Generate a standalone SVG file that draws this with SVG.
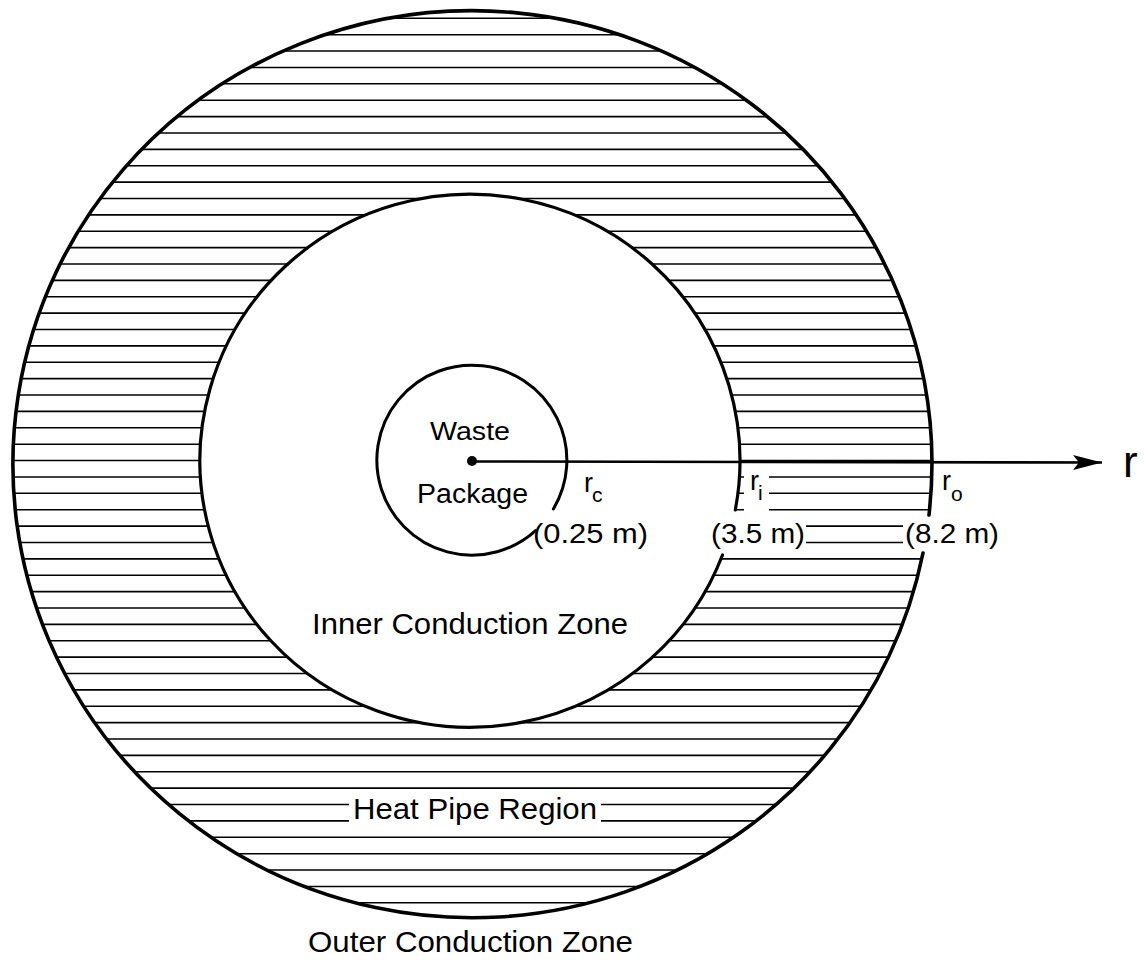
<svg xmlns="http://www.w3.org/2000/svg" width="1144" height="966" viewBox="0 0 1144 966">
<style>
.bd{fill:none;stroke:#000;stroke-linecap:round}
.hl{stroke:#000;stroke-width:1.6}
.t{font-family:"Liberation Sans",Arial,Helvetica,sans-serif;fill:#000}
.ko{fill:#fff}
</style>
<defs>
<clipPath id="annulus">
<path clip-rule="evenodd" d="M 13 463.5 A 459.5 453.5 0 1 0 932 463.5 A 459.5 453.5 0 1 0 13 463.5 Z M 200 460.5 A 270 266.5 0 1 0 740 460.5 A 270 266.5 0 1 0 200 460.5 Z"/>
</clipPath>
<marker id="arrow" markerWidth="30" markerHeight="16" refX="29" refY="8" orient="auto" markerUnits="userSpaceOnUse">
<path d="M 0 0.5 L 29 8 L 0 15.5 L 6 8 Z" fill="#000"/>
</marker>
</defs>
<rect width="1144" height="966" fill="#fff"/>

<g id="hatching" clip-path="url(#annulus)">
<line class="hl" x1="0" x2="1144" y1="18.3" y2="18.3"/>
<line class="hl" x1="0" x2="1144" y1="34.68" y2="34.68"/>
<line class="hl" x1="0" x2="1144" y1="51.06" y2="51.06"/>
<line class="hl" x1="0" x2="1144" y1="67.44" y2="67.44"/>
<line class="hl" x1="0" x2="1144" y1="83.82" y2="83.82"/>
<line class="hl" x1="0" x2="1144" y1="100.2" y2="100.2"/>
<line class="hl" x1="0" x2="1144" y1="116.58" y2="116.58"/>
<line class="hl" x1="0" x2="1144" y1="132.96" y2="132.96"/>
<line class="hl" x1="0" x2="1144" y1="149.34" y2="149.34"/>
<line class="hl" x1="0" x2="1144" y1="165.72" y2="165.72"/>
<line class="hl" x1="0" x2="1144" y1="182.1" y2="182.1"/>
<line class="hl" x1="0" x2="1144" y1="198.48" y2="198.48"/>
<line class="hl" x1="0" x2="1144" y1="214.86" y2="214.86"/>
<line class="hl" x1="0" x2="1144" y1="231.24" y2="231.24"/>
<line class="hl" x1="0" x2="1144" y1="247.62" y2="247.62"/>
<line class="hl" x1="0" x2="1144" y1="264" y2="264"/>
<line class="hl" x1="0" x2="1144" y1="280.38" y2="280.38"/>
<line class="hl" x1="0" x2="1144" y1="296.76" y2="296.76"/>
<line class="hl" x1="0" x2="1144" y1="313.14" y2="313.14"/>
<line class="hl" x1="0" x2="1144" y1="329.52" y2="329.52"/>
<line class="hl" x1="0" x2="1144" y1="345.9" y2="345.9"/>
<line class="hl" x1="0" x2="1144" y1="362.28" y2="362.28"/>
<line class="hl" x1="0" x2="1144" y1="378.66" y2="378.66"/>
<line class="hl" x1="0" x2="1144" y1="395.04" y2="395.04"/>
<line class="hl" x1="0" x2="1144" y1="411.42" y2="411.42"/>
<line class="hl" x1="0" x2="1144" y1="427.8" y2="427.8"/>
<line class="hl" x1="0" x2="1144" y1="444.18" y2="444.18"/>
<line class="hl" x1="0" x2="1144" y1="460.56" y2="460.56"/>
<line class="hl" x1="0" x2="1144" y1="476.94" y2="476.94"/>
<line class="hl" x1="0" x2="1144" y1="493.32" y2="493.32"/>
<line class="hl" x1="0" x2="1144" y1="509.7" y2="509.7"/>
<line class="hl" x1="0" x2="1144" y1="526.08" y2="526.08"/>
<line class="hl" x1="0" x2="1144" y1="542.46" y2="542.46"/>
<line class="hl" x1="0" x2="1144" y1="558.84" y2="558.84"/>
<line class="hl" x1="0" x2="1144" y1="575.22" y2="575.22"/>
<line class="hl" x1="0" x2="1144" y1="591.6" y2="591.6"/>
<line class="hl" x1="0" x2="1144" y1="607.98" y2="607.98"/>
<line class="hl" x1="0" x2="1144" y1="624.36" y2="624.36"/>
<line class="hl" x1="0" x2="1144" y1="640.74" y2="640.74"/>
<line class="hl" x1="0" x2="1144" y1="657.12" y2="657.12"/>
<line class="hl" x1="0" x2="1144" y1="673.5" y2="673.5"/>
<line class="hl" x1="0" x2="1144" y1="689.88" y2="689.88"/>
<line class="hl" x1="0" x2="1144" y1="706.26" y2="706.26"/>
<line class="hl" x1="0" x2="1144" y1="722.64" y2="722.64"/>
<line class="hl" x1="0" x2="1144" y1="739.02" y2="739.02"/>
<line class="hl" x1="0" x2="1144" y1="755.4" y2="755.4"/>
<line class="hl" x1="0" x2="1144" y1="771.78" y2="771.78"/>
<line class="hl" x1="0" x2="1144" y1="788.16" y2="788.16"/>
<line class="hl" x1="0" x2="1144" y1="804.54" y2="804.54"/>
<line class="hl" x1="0" x2="1144" y1="820.92" y2="820.92"/>
<line class="hl" x1="0" x2="1144" y1="837.3" y2="837.3"/>
<line class="hl" x1="0" x2="1144" y1="853.68" y2="853.68"/>
<line class="hl" x1="0" x2="1144" y1="870.06" y2="870.06"/>
<line class="hl" x1="0" x2="1144" y1="886.44" y2="886.44"/>
<line class="hl" x1="0" x2="1144" y1="902.82" y2="902.82"/>
</g>

<g id="knockouts">
<rect class="ko" x="744" y="469" width="25" height="46"/>
<rect class="ko" x="708" y="516" width="98" height="34"/>
<rect class="ko" x="903" y="516" width="98" height="34"/>
<rect class="ko" x="349" y="795" width="252" height="31"/>
</g>

<g id="outer-conduction-zone">
<path class="bd" stroke-width="3.6" d="M 923 553 A 459.5 453.5 0 1 1 929 515"/>
<text class="t" x="308" y="952" font-size="30" textLength="325" lengthAdjust="spacingAndGlyphs">Outer Conduction Zone</text>
</g>

<g id="heat-pipe-region">
<text class="t" x="353" y="819" font-size="29" textLength="244" lengthAdjust="spacingAndGlyphs">Heat Pipe Region</text>
</g>

<g id="inner-conduction-zone">
<path class="bd" stroke-width="3.2" d="M 722.5 555 A 270 266.5 0 1 1 735.3 510"/>
<text class="t" x="312" y="634" font-size="30" textLength="316" lengthAdjust="spacingAndGlyphs">Inner Conduction Zone</text>
</g>

<g id="waste-package">
<path class="bd" stroke-width="3" d="M 535.6 530.6 A 95 95 0 1 1 553.4 508.9"/>
<circle cx="472" cy="461" r="5" fill="#000"/>
<text class="t" x="430" y="440" font-size="26" textLength="80" lengthAdjust="spacingAndGlyphs">Waste</text>
<text class="t" x="417" y="503" font-size="27" textLength="111" lengthAdjust="spacingAndGlyphs">Package</text>
</g>

<g id="connectors">
<line x1="472" y1="461.5" x2="1102" y2="462.5" stroke="#000" stroke-width="2.6" marker-end="url(#arrow)"/>
</g>

<g id="labels">
<text class="t" x="584" y="492" font-size="27">r</text>
<text class="t" x="592" y="502" font-size="21">c</text>
<text class="t" x="533" y="543" font-size="27" textLength="115" lengthAdjust="spacingAndGlyphs">(0.25 m)</text>
<text class="t" x="750" y="490" font-size="27">r</text>
<text class="t" x="758" y="500" font-size="21">i</text>
<text class="t" x="711" y="543" font-size="27" textLength="94" lengthAdjust="spacingAndGlyphs">(3.5 m)</text>
<text class="t" x="942" y="490" font-size="27">r</text>
<text class="t" x="951" y="501" font-size="21">o</text>
<text class="t" x="905" y="543" font-size="27" textLength="94" lengthAdjust="spacingAndGlyphs">(8.2 m)</text>
<text class="t" x="1123" y="477" font-size="44">r</text>
</g>
</svg>
